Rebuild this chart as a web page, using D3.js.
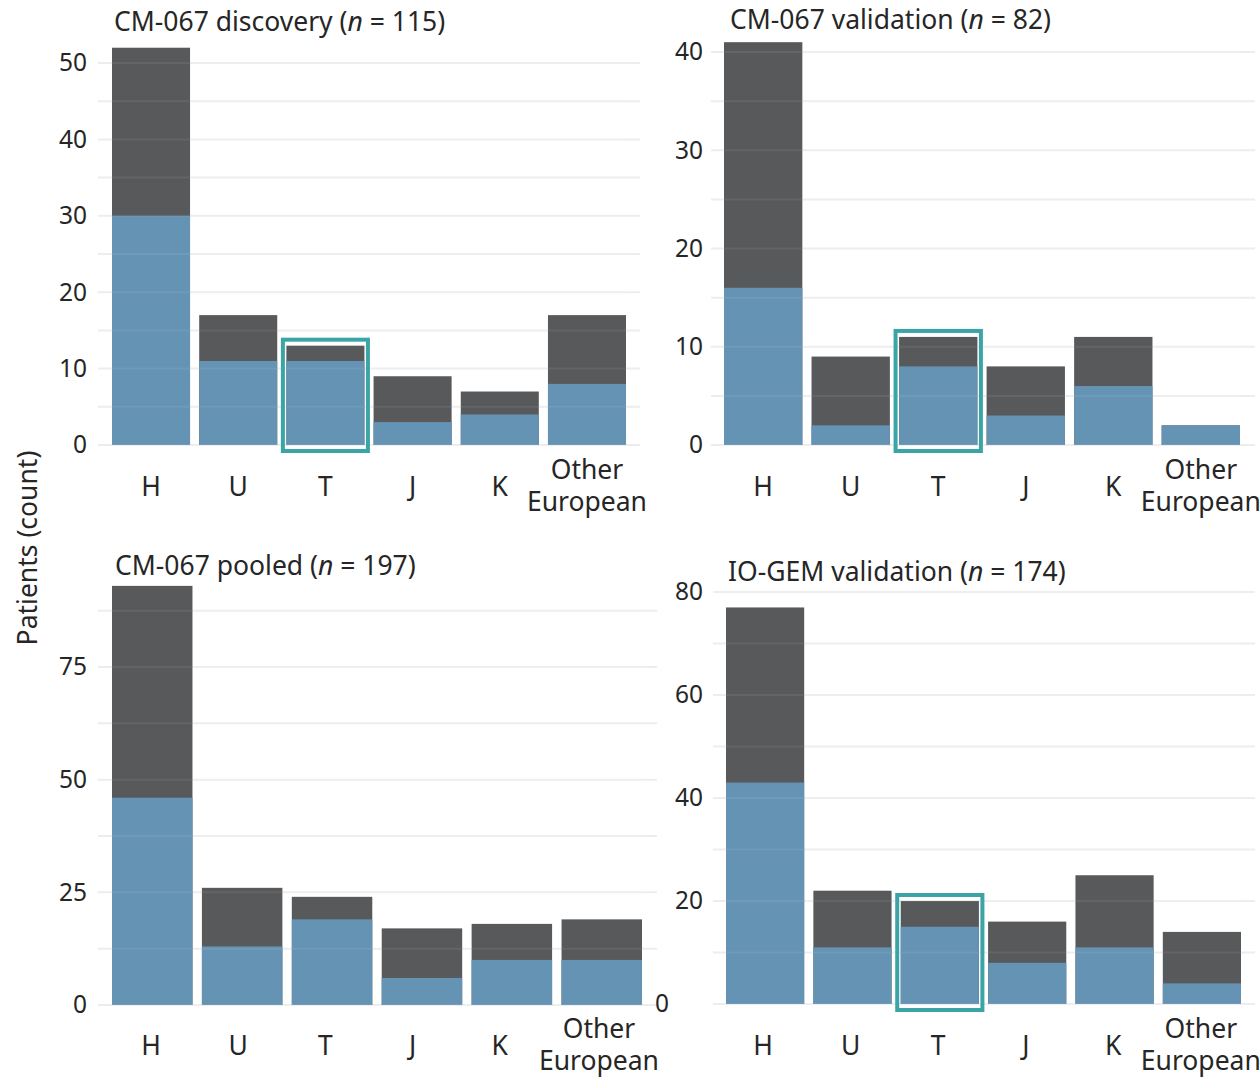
<!DOCTYPE html>
<html>
<head>
<meta charset="utf-8">
<script src="https://cdn.jsdelivr.net/npm/d3@7"></script>
<style>
  body { margin: 0; background: #fff; }
  text { font-family: "Noto Sans", "Open Sans", sans-serif; fill: #262626; }
</style>
</head>
<body>
<div id="viz"></div>
<script>
// haplogroup categories, same order in every panel
var haplogroups = ["H", "U", "T", "J", "K", "Other European"];

// total patients per haplogroup (dark bar = full stack) and the blue part
var discoveryTotal  = [52, 17, 13, 9, 7, 17];
var discoveryBlue   = [30, 11, 11, 3, 4, 8];
var validationTotal = [41, 9, 11, 8, 11, 2];
var validationBlue  = [16, 2, 8, 3, 6, 2];
var pooledTotal     = [93, 26, 24, 17, 18, 19];
var pooledBlue      = [46, 13, 19, 6, 10, 10];
var iogemTotal      = [77, 22, 20, 16, 25, 14];
var iogemBlue       = [43, 11, 15, 8, 11, 4];

// tick labels and gridline values per panel
var discoveryTicks  = [0, 10, 20, 30, 40, 50];
var validationTicks = [0, 10, 20, 30, 40];
var pooledTicks     = [0, 25, 50, 75];
var iogemTicks      = [0, 20, 40, 60, 80];
var discoveryGrid   = d3.range(0, 51, 5);
var validationGrid  = d3.range(0, 41, 5);
var pooledGrid      = d3.range(0, 88, 12.5);
var iogemGrid       = d3.range(0, 81, 10);

var width = 1260, height = 1088;
var darkCol = "#58595b", blueCol = "#6593b4", teal = "#3aa4a7", gridCol = "#ededed";

var svg = d3.select("#viz").append("svg")
    .attr("width", width)
    .attr("height", height);

var panels = [
  { name: "CM-067 discovery", n: 115, total: discoveryTotal, blue: discoveryBlue,
    ticks: discoveryTicks, grid: discoveryGrid, dom: 50, y0: 445, yTop: 63,
    gridX: [98, 640], band: [112, 626], labelBand: [112, 626], tickX: 87,
    titleX: 114, titleY: 31, catY: 486, box: true, otherShift: 0 },
  { name: "CM-067 validation", n: 82, total: validationTotal, blue: validationBlue,
    ticks: validationTicks, grid: validationGrid, dom: 40, y0: 445, yTop: 52,
    gridX: [711, 1255], band: [724, 1240], labelBand: [724, 1240], tickX: 703,
    titleX: 730, titleY: 29, catY: 486, box: true, otherShift: 0 },
  { name: "CM-067 pooled", n: 197, total: pooledTotal, blue: pooledBlue,
    ticks: pooledTicks, grid: pooledGrid, dom: 75, y0: 1005, yTop: 667,
    gridX: [98, 657], band: [112, 642], labelBand: [112, 626], tickX: 87,
    titleX: 115, titleY: 575, catY: 1045, box: false, otherShift: 12 },
  { name: "IO-GEM validation", n: 174, total: iogemTotal, blue: iogemBlue,
    ticks: iogemTicks, grid: iogemGrid, dom: 80, y0: 1004, yTop: 592,
    gridX: [713, 1255], band: [726, 1241], labelBand: [724, 1240], tickX: 703,
    titleX: 728, titleY: 581, catY: 1045, box: true, zeroX: 669, otherShift: 0 }
];

panels.forEach(function(p) {
  var g = svg.append("g");
  var y = d3.scaleLinear().domain([0, p.dom]).range([p.y0, p.yTop]);
  var x = d3.scaleBand().domain(haplogroups).range(p.band).paddingInner(0.105).paddingOuter(0);
  var xl = d3.scaleBand().domain(haplogroups).range(p.labelBand).paddingInner(0.105).paddingOuter(0);

  // light gridlines
  g.selectAll(".grid").data(p.grid).enter().append("line")
      .attr("x1", p.gridX[0]).attr("x2", p.gridX[1])
      .attr("y1", function(d) { return y(d); })
      .attr("y2", function(d) { return y(d); })
      .attr("stroke", gridCol).attr("stroke-width", 2);

  // y tick labels via d3 axis
  var ax = g.append("g")
      .attr("transform", "translate(" + p.tickX + ",0)")
      .call(d3.axisLeft(y).tickValues(p.ticks).tickSize(0).tickPadding(0));
  ax.select(".domain").remove();
  ax.selectAll("text")
      .style("font-size", "24.5px")
      .style("font-family", "'Noto Sans', sans-serif")
      .attr("fill", "#262626");
  if (p.zeroX) {
    ax.selectAll(".tick").filter(function(d) { return d === 0; })
      .select("text").attr("x", p.zeroX - p.tickX);
  }

  // stacked bars: dark full total, blue from the bottom
  g.selectAll(".tot").data(haplogroups).enter().append("rect")
      .attr("x", function(d) { return x(d); })
      .attr("width", x.bandwidth())
      .attr("y", function(d, i) { return y(p.total[i]); })
      .attr("height", function(d, i) { return p.y0 - y(p.total[i]); })
      .attr("fill", darkCol);
  g.selectAll(".blu").data(haplogroups).enter().append("rect")
      .attr("x", function(d) { return x(d); })
      .attr("width", x.bandwidth())
      .attr("y", function(d, i) { return y(p.blue[i]); })
      .attr("height", function(d, i) { return p.y0 - y(p.blue[i]); })
      .attr("fill", blueCol);

  // faint gridlines showing through the bars
  g.selectAll(".gridover").data(p.grid).enter().append("line")
      .attr("x1", p.band[0]).attr("x2", p.band[1])
      .attr("y1", function(d) { return y(d); })
      .attr("y2", function(d) { return y(d); })
      .attr("stroke", "#fff").attr("stroke-opacity", 0.07).attr("stroke-width", 2);

  // highlight box around T
  if (p.box) {
    var ti = haplogroups.indexOf("T");
    g.append("rect")
        .attr("x", x("T") - 3.5)
        .attr("width", x.bandwidth() + 7)
        .attr("y", y(p.total[ti]) - 6)
        .attr("height", p.y0 - y(p.total[ti]) + 12)
        .attr("fill", "none")
        .attr("stroke", teal)
        .attr("stroke-width", 4);
  }

  // category labels
  haplogroups.forEach(function(c) {
    var cx = xl(c) + xl.bandwidth() / 2;
    var t = g.append("text")
        .attr("x", cx).attr("text-anchor", "middle")
        .style("font-size", "26.5px");
    if (c === "Other European") {
      cx += p.otherShift;
      t.append("tspan").attr("x", cx).attr("y", p.catY - 7).text("Other");
      t.append("tspan").attr("x", cx).attr("y", p.catY + 25).text("European");
    } else {
      t.attr("y", p.catY + 9.5).text(c);
    }
  });

  // panel title with italic n
  var tt = g.append("text")
      .attr("x", p.titleX).attr("y", p.titleY)
      .style("font-size", "26.5px");
  tt.append("tspan").text(p.name + " (");
  tt.append("tspan").style("font-style", "italic").text("n");
  tt.append("tspan").text(" = " + p.n + ")");
});

// shared y-axis title
svg.append("text")
    .attr("transform", "translate(37,548) rotate(-90)")
    .attr("text-anchor", "middle")
    .style("font-size", "26.5px")
    .text("Patients (count)");
</script>
</body>
</html>
